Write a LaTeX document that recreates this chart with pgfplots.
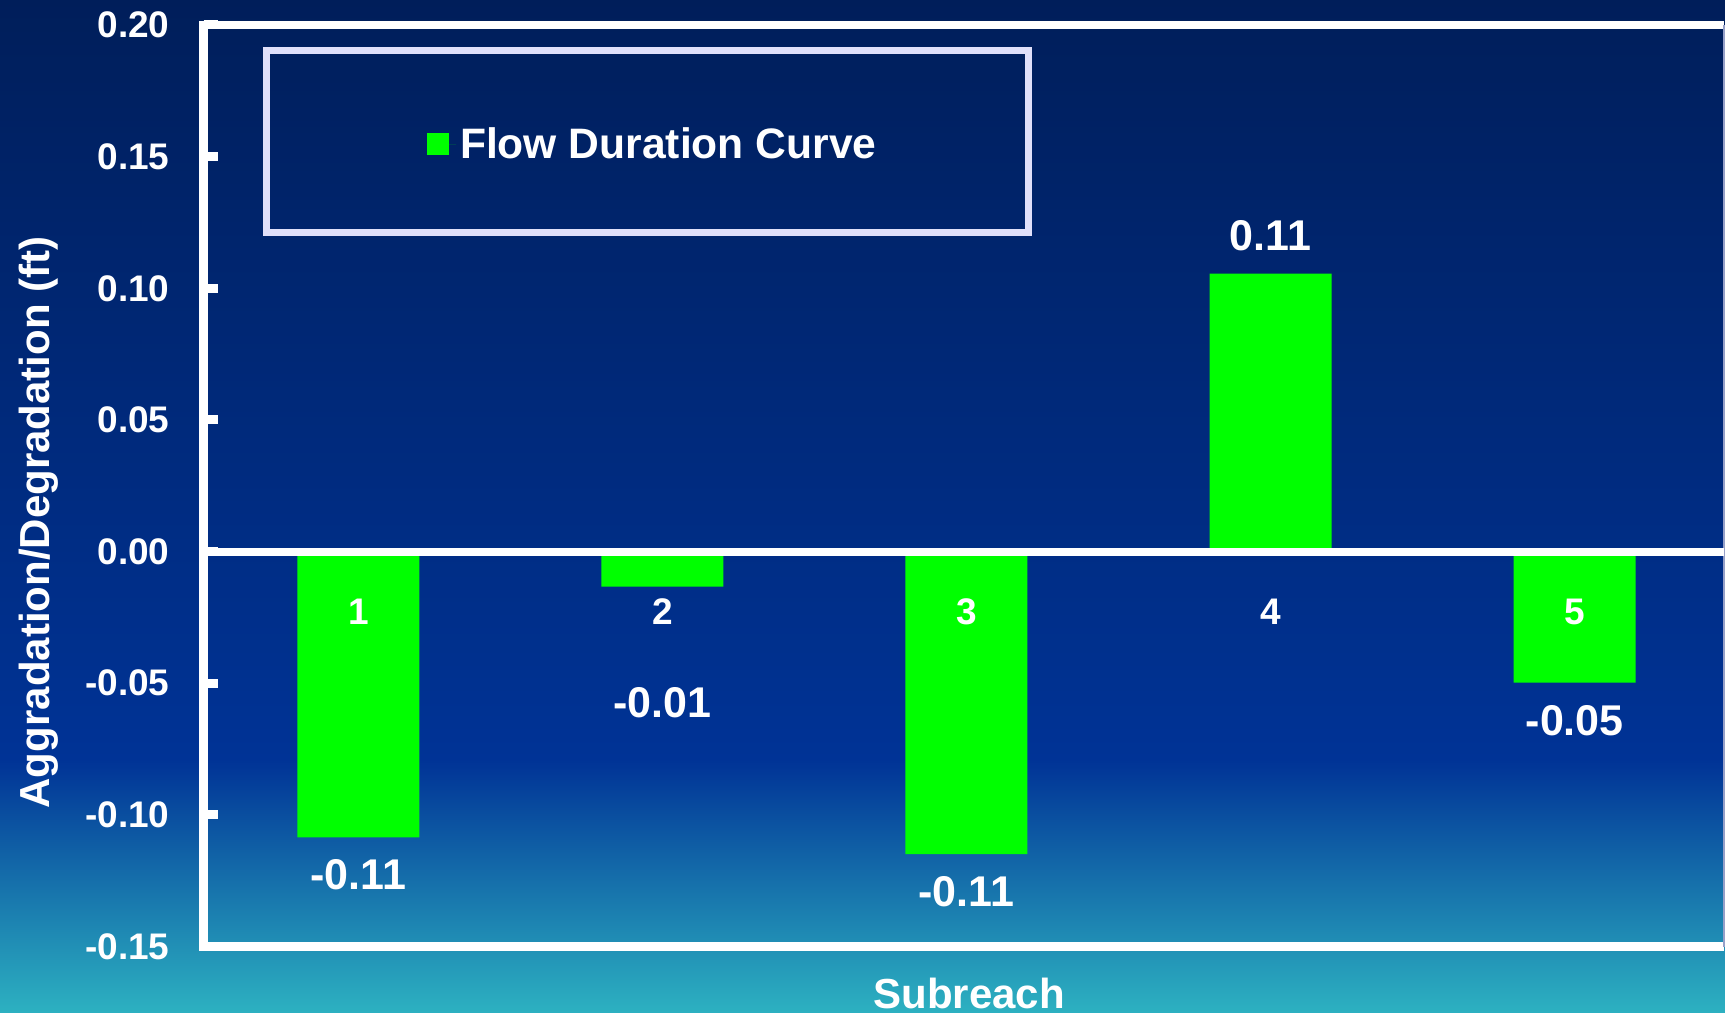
\documentclass[border=0pt]{standalone}
\usepackage{pgfplots}
\pgfplotsset{compat=1.18}
\usepackage{fontspec}
\setmainfont{Liberation Sans}

\definecolor{navytop}{RGB}{0,30,90}
\definecolor{bluemid}{RGB}{0,51,150}
\definecolor{tealbot}{RGB}{45,177,193}
\definecolor{barfill}{RGB}{0,255,0}
\definecolor{legframe}{RGB}{224,224,250}
\definecolor{edgeline}{RGB}{150,160,200}

\begin{document}
\begin{tikzpicture}
% slide background
\path[use as bounding box] (0,0) rectangle (862.5bp,506.5bp);
\shade[top color=navytop, bottom color=bluemid] (0,126.4bp) rectangle (862.5bp,506.5bp);
\shade[top color=bluemid, bottom color=tealbot] (0,0) rectangle (862.5bp,126.5bp);
\begin{axis}[
  at={(101.75bp,33.25bp)}, anchor=south west,
  scale only axis, width=760.25bp, height=460.75bp,
  xmin=0.491, xmax=5.491, ymin=-0.15, ymax=0.2,
  clip=false, axis on top,
  axis x line=middle, axis y line=left,
  axis line style={-, white, line width=4bp},
  every inner x axis line/.append style={-},
  every outer y axis line/.append style={-},
  hide obscured x ticks=false, hide obscured y ticks=false,
  xtick={1,2,3,4,5}, xticklabels={1,2,3,4,5},
  ytick={-0.15,-0.10,-0.05,0,0.05,0.10,0.15,0.20},
  scaled y ticks=false,
  tick align=inside, major tick length=7bp,
  xtick style={draw=none},
  ytick style={white, line width=4.5bp},
  tick label style={font=\bfseries\fontsize{18.5bp}{22bp}\selectfont, text=white},
  yticklabel style={/pgf/number format/fixed, /pgf/number format/fixed zerofill,
    /pgf/number format/precision=2, /pgf/number format/assume math mode=true,
    anchor=east, xshift=-13.5bp},
  xticklabel style={yshift=-20bp},
  xlabel={Subreach}, ylabel={Aggradation/Degradation (ft)},
  every axis x label/.style={at={(rel axis cs:0.5035,-0.0505)}, anchor=center,
    font=\bfseries\fontsize{21bp}{25bp}\selectfont, text=white},
  every axis y label/.style={at={(rel axis cs:-0.1085,0.4601)}, rotate=90, anchor=center,
    font=\bfseries\fontsize{21bp}{25bp}\selectfont, text=white},
  visualization depends on={y \as \rawy},
  nodes near coords, nodes near coords align=vertical,
  every node near coord/.append style={font=\bfseries\fontsize{21.5bp}{25bp}\selectfont,
    text=white, inner ysep=11bp,
    % a short negative bar gets its label moved clear of the category number
    yshift={(\rawy<0)*(\rawy>-0.03)*(-39bp)},
    /pgf/number format/fixed, /pgf/number format/fixed zerofill,
    /pgf/number format/precision=2, /pgf/number format/assume math mode=true},
  legend style={at={(rel axis cs:0.1470,0.8705)}, anchor=west, draw=none, fill=none,
    inner sep=0pt, text=white, font=\bfseries\fontsize{21.3bp}{25bp}\selectfont},
]
\addplot[ybar, bar width=61bp, fill=barfill, draw=none,
  legend image code/.code={\fill[barfill] (0bp,-5.5bp) rectangle (11bp,5.5bp);
    \path (0bp,0bp) -- (14.3bp,0bp);}]
  coordinates {(1,-0.1086) (2,-0.0133) (3,-0.1149) (4,0.1056) (5,-0.0498)};
\addlegendentry{Flow Duration Curve}
% plot frame: top, left and bottom edges, thin right edge
\draw[white, line width=4bp] (rel axis cs:1,1) -- (rel axis cs:0,1) -- (rel axis cs:0,0) -- (rel axis cs:1,0);
\draw[edgeline, line width=0.6bp] (rel axis cs:1,0) -- (rel axis cs:1,1);
% legend frame
\draw[legframe, line width=3.5bp] (rel axis cs:0.04143,0.77482) rectangle (rel axis cs:0.5426,0.97233);
\end{axis}
\end{tikzpicture}
\end{document}
